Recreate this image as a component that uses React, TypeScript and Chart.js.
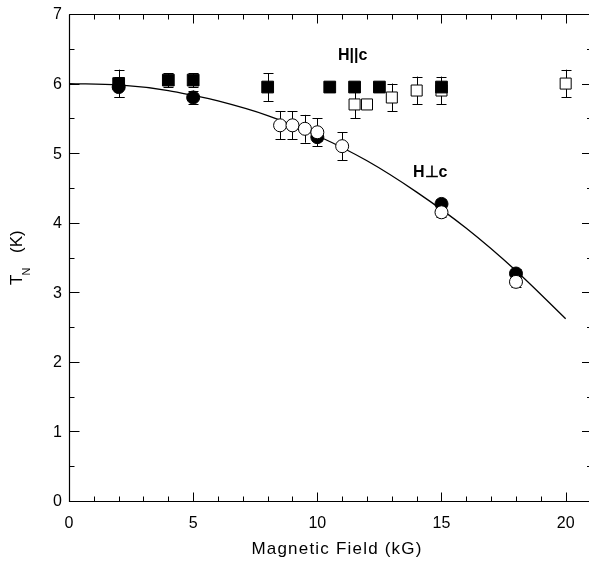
import React, { useEffect, useRef } from 'react';
import { Chart, registerables } from 'chart.js';
Chart.register(...registerables);

const FONT = '"Liberation Sans", Arial, Helvetica, sans-serif';

// H || c : filled squares
const parFilledX = [2, 4, 5, 8, 10.5, 11.5, 12.5, 15];
const parFilledY = [6.0, 6.05, 6.05, 5.95, 5.95, 5.95, 5.95, 5.95];
const parFilledErr = [0.2, 0.1, 0.1, 0.2, 0.07, 0.07, 0.07, 0.05];

// H || c : open squares
const parOpenX = [11.5, 12, 13, 14, 15, 20];
const parOpenY = [5.7, 5.7, 5.8, 5.9, 5.9, 6.0];
const parOpenErr = [0.2, 0.05, 0.2, 0.2, 0.2, 0.2];

// H ⊥ c : filled circles
const perpFilledX = [2, 5, 10, 15, 18];
const perpFilledY = [5.95, 5.8, 5.23, 4.27, 3.27];
const perpFilledErr = [0.15, 0.1, 0.05, 0.07, 0.07];

// H ⊥ c : open circles
const perpOpenX = [8.5, 9, 9.5, 10, 11, 15, 18];
const perpOpenY = [5.4, 5.4, 5.35, 5.3, 5.1, 4.15, 3.15];
const perpOpenErr = [0.2, 0.2, 0.2, 0.2, 0.2, 0.07, 0.07];

// fitted curve
const fitX = [0, 2, 4, 5, 6, 8, 10, 12, 14, 16, 18, 20];
const fitY = [6.0, 5.98, 5.9, 5.83, 5.75, 5.54, 5.25, 4.89, 4.44, 3.92, 3.31, 2.62];

const xTicks = [0, 5, 10, 15, 20];
const yTicks = [0, 1, 2, 3, 4, 5, 6, 7];
const xMinorStep = 1;
const yMinorStep = 0.5;

const toPts = (xs: number[], ys: number[]) => xs.map((x, i) => ({ x, y: ys[i] }));

const errorSets: Record<number, number[]> = {
  0: perpOpenErr,
  1: perpFilledErr,
  2: parFilledErr,
  3: parOpenErr,
};

const AREA = { left: 69, top: 14, right: 589, bottom: 501 };

const fixAreaPlugin = {
  id: 'fixArea',
  afterLayout(chart: any) {
    const ca = chart.chartArea;
    ca.left = AREA.left;
    ca.right = AREA.right;
    ca.top = AREA.top;
    ca.bottom = AREA.bottom;
    ca.width = AREA.right - AREA.left;
    ca.height = AREA.bottom - AREA.top;
    const xs = chart.scales.x;
    xs.left = AREA.left;
    xs.right = AREA.right;
    xs.width = AREA.right - AREA.left;
    xs.top = AREA.bottom;
    xs.bottom = chart.height;
    xs.height = chart.height - AREA.bottom;
    xs.configure();
    const ys = chart.scales.y;
    ys.left = 0;
    ys.right = AREA.left;
    ys.width = AREA.left;
    ys.top = AREA.top;
    ys.bottom = AREA.bottom;
    ys.height = AREA.bottom - AREA.top;
    ys.configure();
  },
};

const errorBarPlugin = {
  id: 'errorBars',
  beforeDatasetsDraw(chart: any) {
    const ctx = chart.ctx;
    const xs = chart.scales.x;
    const ys = chart.scales.y;
    ctx.save();
    ctx.strokeStyle = '#000';
    ctx.lineWidth = 1;
    Object.keys(errorSets).forEach((k) => {
      const idx = Number(k);
      const errs = errorSets[idx];
      const data = chart.data.datasets[idx].data as { x: number; y: number }[];
      data.forEach((p, i) => {
        const e = errs[i];
        const px = Math.round(xs.getPixelForValue(p.x)) + 0.5;
        const y1 = ys.getPixelForValue(p.y + e);
        const y2 = ys.getPixelForValue(p.y - e);
        ctx.beginPath();
        ctx.moveTo(px, y1);
        ctx.lineTo(px, y2);
        ctx.moveTo(px - 5, Math.round(y1) + 0.5);
        ctx.lineTo(px + 5, Math.round(y1) + 0.5);
        ctx.moveTo(px - 5, Math.round(y2) + 0.5);
        ctx.lineTo(px + 5, Math.round(y2) + 0.5);
        ctx.stroke();
      });
    });
    ctx.restore();
  },
};

const framePlugin = {
  id: 'frameTicks',
  afterDraw(chart: any) {
    const ctx = chart.ctx;
    const a = chart.chartArea;
    const xs = chart.scales.x;
    const ys = chart.scales.y;
    ctx.save();
    ctx.strokeStyle = '#000';
    ctx.lineWidth = 1.2;
    const L = Math.round(a.left) + 0.5;
    const B = Math.round(a.bottom) + 0.5;
    const T = Math.round(a.top) + 0.5;
    const R = a.right;
    ctx.beginPath();
    ctx.moveTo(L, T);
    ctx.lineTo(L, B);
    ctx.lineTo(R, B);
    ctx.moveTo(L, T);
    ctx.lineTo(R, T);
    ctx.stroke();
    ctx.lineWidth = 1;
    ctx.beginPath();
    for (let v = 0; v <= xs.max + 1e-9; v += xMinorStep) {
      const major = xTicks.includes(v);
      const len = major ? 9 : 5;
      const px = Math.round(xs.getPixelForValue(v)) + 0.5;
      ctx.moveTo(px, B);
      ctx.lineTo(px, B - len);
      ctx.moveTo(px, T);
      ctx.lineTo(px, T + len);
    }
    for (let v = 0; v <= ys.max + 1e-9; v += yMinorStep) {
      const major = yTicks.includes(v);
      const len = major ? 10 : 5;
      const py = Math.round(ys.getPixelForValue(v)) + 0.5;
      ctx.moveTo(L, py);
      ctx.lineTo(L + len, py);
      ctx.moveTo(R, py);
      ctx.lineTo(R - len + 3, py);
    }
    ctx.stroke();

    // x title
    ctx.fillStyle = '#000';
    ctx.font = `17px ${FONT}`;
    (ctx as any).letterSpacing = '1.2px';
    ctx.textAlign = 'center';
    ctx.textBaseline = 'alphabetic';
    ctx.fillText('Magnetic Field (kG)', 337, 554);
    (ctx as any).letterSpacing = '0px';

    // y title: T_N (K)
    ctx.save();
    ctx.translate(22, 285);
    ctx.rotate(-Math.PI / 2);
    ctx.textAlign = 'left';
    ctx.font = `17px ${FONT}`;
    ctx.fillText('T', 0, 0);
    const tw = ctx.measureText('T').width;
    ctx.font = `11px ${FONT}`;
    ctx.fillText('N', tw - 1, 8);
    ctx.font = `17px ${FONT}`;
    ctx.fillText('(K)', 32, 0);
    ctx.restore();

    // series labels
    ctx.font = `bold 16px ${FONT}`;
    ctx.textAlign = 'left';
    ctx.fillText('H||c', 338, 60);
    ctx.fillText('H\u22A5c', 413, 177);
    ctx.restore();
  },
};

export default function App() {
  const ref = useRef<HTMLCanvasElement>(null);
  useEffect(() => {
    const chart = new Chart(ref.current!, {
      type: 'scatter',
      data: {
        datasets: [
          {
            label: 'H⊥c open',
            data: toPts(perpOpenX, perpOpenY),
            pointStyle: 'circle',
            pointRadius: 6.5,
            backgroundColor: '#fff',
            borderColor: '#000',
            borderWidth: 1,
          },
          {
            label: 'H⊥c filled',
            data: toPts(perpFilledX, perpFilledY),
            pointStyle: 'circle',
            pointRadius: 6.5,
            backgroundColor: '#000',
            borderColor: '#000',
            borderWidth: 1,
          },
          {
            label: 'H||c filled',
            data: toPts(parFilledX, parFilledY),
            pointStyle: 'rect',
            pointRadius: 8.3,
            backgroundColor: '#000',
            borderColor: '#000',
            borderWidth: 1,
          },
          {
            label: 'H||c open',
            data: toPts(parOpenX, parOpenY),
            pointStyle: 'rect',
            pointRadius: 7.8,
            backgroundColor: '#fff',
            borderColor: '#000',
            borderWidth: 1,
          },
          {
            label: 'fit',
            data: toPts(fitX, fitY),
            showLine: true,
            pointRadius: 0,
            borderColor: '#000',
            borderWidth: 1.3,
            cubicInterpolationMode: 'monotone',
          } as any,
        ],
      },
      options: {
        responsive: false,
        animation: false,
        devicePixelRatio: 1,
        layout: { padding: { top: 14, left: 0, right: 0, bottom: 0 } },
        plugins: { legend: { display: false }, tooltip: { enabled: false } },
        scales: {
          x: {
            type: 'linear',
            min: 0,
            max: 20.94,
            grid: { display: false, drawTicks: false },
            border: { display: false },
            ticks: {
              color: '#000',
              font: { size: 16, family: FONT },
              padding: 13,
              maxRotation: 0,
              autoSkip: false,
              includeBounds: false,
            },
            afterBuildTicks: (s: any) => {
              s.ticks = xTicks.map((v) => ({ value: v }));
            },
            afterFit: (s: any) => {
              s.height = 65;
            },
          },
          y: {
            type: 'linear',
            min: 0,
            max: 7,
            grid: { display: false, drawTicks: false },
            border: { display: false },
            ticks: {
              color: '#000',
              font: { size: 16, family: FONT },
              padding: 7,
              labelOffset: 1,
              autoSkip: false,
              includeBounds: false,
            },
            afterBuildTicks: (s: any) => {
              s.ticks = yTicks.map((v) => ({ value: v }));
            },
            afterFit: (s: any) => {
              s.width = 69;
            },
          },
        },
      },
      plugins: [fixAreaPlugin, errorBarPlugin, framePlugin],
    });
    return () => chart.destroy();
  }, []);
  return (
    <div style={{ position: 'absolute', left: 0, top: 0, width: 589, height: 566, background: '#fff' }}>
      <canvas ref={ref} width={589} height={566} style={{ display: 'block', width: 589, height: 566 }} />
    </div>
  );
}
